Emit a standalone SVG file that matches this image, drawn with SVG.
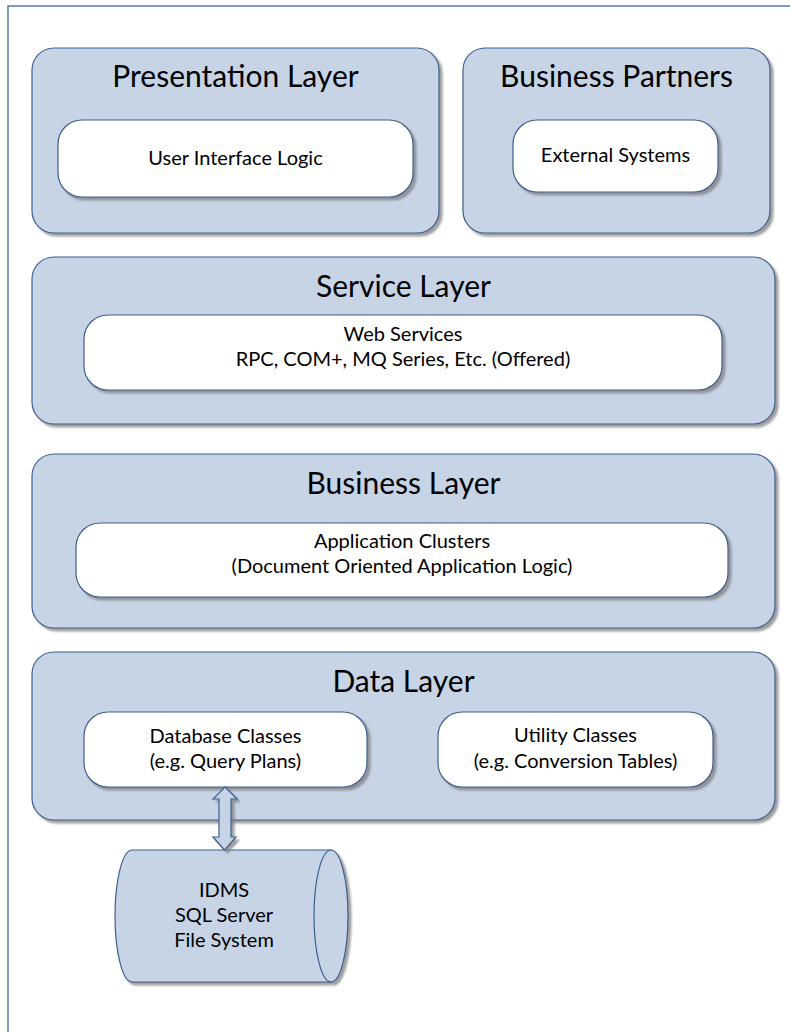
<svg xmlns="http://www.w3.org/2000/svg" width="790" height="1032" viewBox="0 0 790 1032">
  <style>
    .layer { fill: #c6d4e6; stroke: #3d5f8f; stroke-width: 1.2; filter: url(#shadow); }
    .inner { fill: #ffffff; stroke: #3d5f8f; stroke-width: 1.2; filter: url(#shadow); }
    .title { font-family: Lato, "Liberation Sans", sans-serif; font-size: 30px; fill: #000; text-anchor: middle; }
    .label { font-family: Lato, "Liberation Sans", sans-serif; font-size: 20px; fill: #000; text-anchor: middle; }
  </style>
  <defs>
    <filter id="shadow" x="-5%" y="-5%" width="115%" height="120%">
      <feDropShadow dx="3" dy="3" stdDeviation="1" flood-color="#7f7f7f" flood-opacity="0.75"/>
    </filter>
  </defs>

  <rect x="0" y="0" width="790" height="1032" fill="#ffffff"/>
  <!-- page frame -->
  <rect x="8" y="6" width="800" height="1040" fill="none" stroke="#5a7aab" stroke-width="1.5"/>

  <g id="presentation-layer">
    <rect class="layer" x="32" y="48" width="407" height="185" rx="22" ry="22"/>
    <text class="title" x="235.5" y="87">Presentation Layer</text>
    <rect class="inner" x="58" y="120" width="355" height="77" rx="24" ry="24"/>
    <text class="label" x="235.5" y="165">User Interface Logic</text>
  </g>

  <g id="business-partners">
    <rect class="layer" x="463" y="48" width="307" height="185" rx="22" ry="22"/>
    <text class="title" x="616.5" y="87">Business Partners</text>
    <rect class="inner" x="513" y="120" width="205" height="72" rx="24" ry="24"/>
    <text class="label" x="615.5" y="162">External Systems</text>
  </g>

  <g id="service-layer">
    <rect class="layer" x="32" y="257" width="743" height="167" rx="22" ry="22"/>
    <text class="title" x="403.5" y="297">Service Layer</text>
    <rect class="inner" x="84" y="315" width="638" height="75" rx="24" ry="24"/>
    <text class="label" x="403" y="341">Web Services</text>
    <text class="label" x="403" y="366">RPC, COM+, MQ Series, Etc. (Offered)</text>
  </g>

  <g id="business-layer">
    <rect class="layer" x="32" y="454" width="743" height="174" rx="22" ry="22"/>
    <text class="title" x="403.5" y="494">Business Layer</text>
    <rect class="inner" x="76" y="523" width="652" height="74" rx="24" ry="24"/>
    <text class="label" x="402" y="548">Application Clusters</text>
    <text class="label" x="402" y="573">(Document Oriented Application Logic)</text>
  </g>

  <g id="data-layer">
    <rect class="layer" x="32" y="652" width="743" height="168" rx="22" ry="22"/>
    <text class="title" x="403.5" y="692">Data Layer</text>
  </g>

  <g id="database-classes">
    <rect class="inner" x="84" y="712" width="283" height="75" rx="24" ry="24"/>
    <text class="label" x="225.5" y="743">Database Classes</text>
    <text class="label" x="225.5" y="768">(e.g. Query Plans)</text>
  </g>

  <g id="utility-classes">
    <rect class="inner" x="438" y="712" width="275" height="75" rx="24" ry="24"/>
    <text class="label" x="575.5" y="742">Utility Classes</text>
    <text class="label" x="575.5" y="768">(e.g. Conversion Tables)</text>
  </g>

  <g id="storage">
    <path class="layer" d="M132,850 L331,850 A17,66 0 0 1 331,982 L132,982 A17,66 0 0 1 132,850 Z"/>
    <path d="M331,850 A17,66 0 0 0 331,982" fill="none" stroke="#3d5f8f" stroke-width="1.2"/>
    <text class="label" x="224" y="897">IDMS</text>
    <text class="label" x="224" y="922">SQL Server</text>
    <text class="label" x="224" y="947">File System</text>
  </g>

  <g id="connectors">
    <polygon class="layer" points="225,787 237,799 231,799 231,837 236,837 224.5,850 213,837 219,837 219,799 213,799"/>
  </g>
</svg>
